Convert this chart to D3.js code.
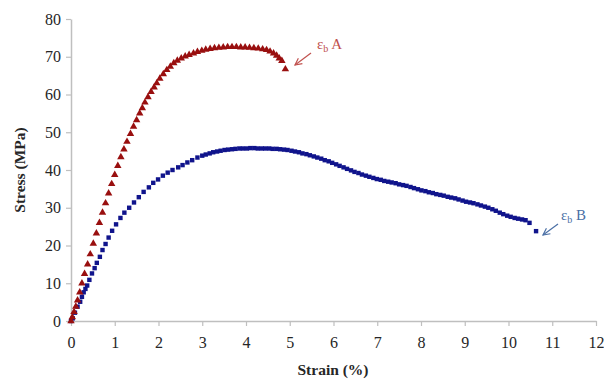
<!DOCTYPE html>
<html>
<head>
<meta charset="utf-8">
<script src="https://cdn.jsdelivr.net/npm/d3@7"></script>
<style>
  body { margin: 0; background: #fff; }
  svg text { font-family: "Liberation Serif", "Times New Roman", serif; }
</style>
</head>
<body>
<svg id="chart" width="604" height="379"></svg>
<script>
// sample A (red triangles) - strain %, stress MPa
var strainA = [0.00,0.03,0.07,0.11,0.15,0.20,0.25,0.31,0.38,0.44,0.51,0.58,0.65,0.72,0.79,0.86,0.93,1.00,1.07,1.14,
  1.21,1.28,1.36,1.43,1.50,1.57,1.63,1.69,1.76,1.83,1.90,1.96,2.03,2.11,2.19,2.27,2.35,2.43,2.52,2.61,
  2.70,2.80,2.89,2.99,3.08,3.18,3.28,3.38,3.48,3.58,3.68,3.78,3.88,3.98,4.08,4.18,4.28,4.38,4.47,4.55,
  4.63,4.70,4.76,4.82,4.90];
var stressA = [0.0,1.0,2.4,3.8,5.5,7.6,10.0,12.5,15.0,17.7,20.5,23.2,26.0,28.7,31.2,33.8,36.3,38.7,41.1,43.4,
  45.5,47.5,49.6,51.5,53.2,55.0,56.4,57.9,59.3,60.7,61.9,63.0,64.2,65.4,66.5,67.4,68.3,69.0,69.6,70.1,
  70.5,70.9,71.3,71.6,71.9,72.1,72.3,72.4,72.5,72.6,72.6,72.6,72.5,72.5,72.4,72.3,72.2,72.0,71.8,71.4,
  70.9,70.3,69.6,68.9,66.7];

// sample B (blue squares)
var strainB = [0.00,0.04,0.09,0.15,0.21,0.25,0.29,0.33,0.37,0.42,0.48,0.54,0.59,0.66,0.72,0.79,0.86,0.94,1.03,1.13,
  1.22,1.33,1.44,1.55,1.66,1.78,1.88,1.99,2.10,2.21,2.32,2.45,2.55,2.66,2.77,2.89,3.00,3.08,3.17,3.25,
  3.34,3.42,3.51,3.59,3.68,3.76,3.85,3.93,4.02,4.10,4.19,4.27,4.36,4.44,4.53,4.61,4.70,4.78,4.87,4.95,
  5.04,5.12,5.21,5.29,5.38,5.46,5.55,5.63,5.72,5.80,5.89,5.97,6.06,6.14,6.23,6.31,6.40,6.48,6.57,6.65,
  6.74,6.82,6.91,6.99,7.08,7.16,7.25,7.33,7.42,7.50,7.59,7.67,7.76,7.84,7.93,8.01,8.10,8.18,8.27,8.35,
  8.44,8.52,8.61,8.69,8.78,8.86,8.95,9.03,9.12,9.20,9.29,9.37,9.46,9.54,9.63,9.71,9.80,9.88,9.97,10.05,
  10.14,10.22,10.31,10.39,10.48,10.63];
var stressB = [0.0,0.7,2.2,3.8,5.1,6.4,7.6,8.5,9.4,10.9,12.6,14.0,15.4,17.0,18.8,20.4,22.1,23.9,25.6,27.3,
  28.7,30.0,31.4,32.8,34.2,35.4,36.6,37.5,38.5,39.3,40.0,40.7,41.3,42.0,42.6,43.3,43.8,44.1,44.4,44.7,
  44.9,45.1,45.3,45.4,45.5,45.6,45.7,45.7,45.7,45.8,45.8,45.7,45.7,45.7,45.7,45.6,45.6,45.5,45.4,45.3,
  45.1,44.9,44.7,44.4,44.2,43.9,43.6,43.3,43.0,42.6,42.3,41.9,41.5,41.1,40.7,40.3,39.9,39.5,39.2,38.8,
  38.5,38.2,37.9,37.6,37.4,37.1,36.9,36.7,36.5,36.2,36.0,35.8,35.5,35.2,34.9,34.6,34.4,34.1,33.9,33.6,
  33.4,33.2,32.9,32.7,32.5,32.2,31.9,31.6,31.4,31.2,30.9,30.6,30.3,30.0,29.6,29.2,28.7,28.3,27.9,27.6,
  27.3,27.1,26.9,26.7,26.0,23.8];

var xTicks = [0,1,2,3,4,5,6,7,8,9,10,11,12];
var yTicks = [0,10,20,30,40,50,60,70,80];

var svg = d3.select("#chart");
var plotLeft = 71, plotRight = 596, plotTop = 19, plotBottom = 321;

var x = d3.scaleLinear().domain([0, 12]).range([plotLeft, plotRight]);
var y = d3.scaleLinear().domain([0, 80]).range([plotBottom, plotTop]);

var axisColor = "#bfbfbf";

var gx = svg.append("g")
    .attr("transform", "translate(0," + plotBottom + ")")
    .call(d3.axisBottom(x).tickValues(xTicks).tickSize(5).tickPadding(11).tickSizeOuter(0));
var gy = svg.append("g")
    .attr("transform", "translate(" + plotLeft + ",0)")
    .call(d3.axisLeft(y).tickValues(yTicks).tickSize(5).tickPadding(5).tickSizeOuter(0));

[gx, gy].forEach(function(g) {
  g.select(".domain").attr("stroke", axisColor).attr("stroke-width", 1.5);
  g.selectAll(".tick line").attr("stroke", axisColor).attr("stroke-width", 1.2);
  g.selectAll(".tick text").attr("fill", "#262626").style("font-size", "16px")
    .style("font-family", "'Liberation Serif', serif");
});

svg.append("text")
    .attr("x", 333).attr("y", 375)
    .attr("text-anchor", "middle")
    .style("font-size", "15.5px").style("font-weight", "bold").attr("fill", "#262626")
    .text("Strain (%)");
svg.append("text")
    .attr("transform", "translate(25,170) rotate(-90)")
    .attr("text-anchor", "middle")
    .style("font-size", "15.5px").style("font-weight", "bold").attr("fill", "#262626")
    .text("Stress (MPa)");

var dataA = strainA.map(function(s, i) { return {x: s, y: stressA[i]}; });
var dataB = strainB.map(function(s, i) { return {x: s, y: stressB[i]}; });

svg.append("g").selectAll("rect")
    .data(dataB)
  .enter().append("rect")
    .attr("x", function(d) { return x(d.x) - 2.2; })
    .attr("y", function(d) { return y(d.y) - 2.2; })
    .attr("width", 4.4).attr("height", 4.4)
    .attr("fill", "#10148c");

var tri = d3.symbol().type(d3.symbolTriangle).size(24);
svg.append("g").selectAll("path")
    .data(dataA)
  .enter().append("path")
    .attr("d", tri)
    .attr("transform", function(d) { return "translate(" + x(d.x) + "," + y(d.y) + ")"; })
    .attr("fill", "#990f0f");

// annotations
var defs = svg.append("defs");
function marker(id, color) {
  defs.append("marker")
      .attr("id", id).attr("viewBox", "0 0 10 10")
      .attr("refX", 9).attr("refY", 5)
      .attr("markerWidth", 7).attr("markerHeight", 7)
      .attr("orient", "auto")
    .append("path")
      .attr("d", "M1,1 L9,5 L1,9")
      .attr("fill", "none").attr("stroke", color).attr("stroke-width", 1.4);
}
marker("arrA", "#c0504d");
marker("arrB", "#4a6fa5");

svg.append("line")
    .attr("x1", 311).attr("y1", 53).attr("x2", 295).attr("y2", 65)
    .attr("stroke", "#c0504d").attr("stroke-width", 1.2).attr("marker-end", "url(#arrA)");
var tA = svg.append("text").attr("x", 317).attr("y", 49).attr("fill", "#c0504d").style("font-size", "15px");
tA.append("tspan").text("ε");
tA.append("tspan").attr("dy", 3).style("font-size", "10px").text("b");
tA.append("tspan").attr("dy", -3).text(" A");

svg.append("line")
    .attr("x1", 558).attr("y1", 224).attr("x2", 543).attr("y2", 235)
    .attr("stroke", "#4a6fa5").attr("stroke-width", 1.2).attr("marker-end", "url(#arrB)");
var tB = svg.append("text").attr("x", 561).attr("y", 220).attr("fill", "#4a6fa5").style("font-size", "15px");
tB.append("tspan").text("ε");
tB.append("tspan").attr("dy", 3).style("font-size", "10px").text("b");
tB.append("tspan").attr("dy", -3).text(" B");
</script>
</body>
</html>
